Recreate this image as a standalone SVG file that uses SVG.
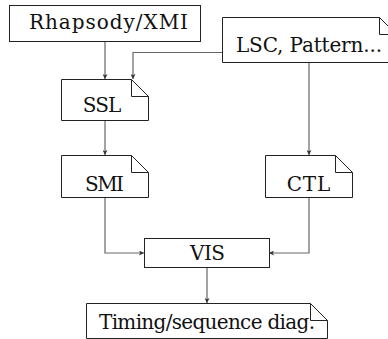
<svg xmlns="http://www.w3.org/2000/svg" width="388" height="339" viewBox="0 0 388 339">
  <style>
    .box { fill: #fff; stroke: #222; stroke-width: 1; }
    .fold { fill: none; stroke: #222; stroke-width: 1; }
    .lbl { font-size: 20px; fill: #111; text-anchor: middle; }
    .edge { fill: none; stroke: #666; stroke-width: 1.2; marker-end: url(#arrow); }
  </style>
  <defs>
    <marker id="arrow" viewBox="0 0 6 6" refX="6" refY="3" markerWidth="5" markerHeight="5" markerUnits="userSpaceOnUse" orient="auto">
      <path d="M0,0 L6,3 L0,6 L1.5,3 Z" fill="#333"/>
    </marker>
  </defs>
  <rect width="388" height="339" fill="#fff"/>

  <g id="connectors">
    <path class="edge" d="M105,41 V79"/>
    <path class="edge" d="M222,52.5 H133 V79"/>
    <path class="edge" d="M309,62 V155"/>
    <path class="edge" d="M105,120 V155"/>
    <path class="edge" d="M105,197 V253 H144"/>
    <path class="edge" d="M309,197 V253 H269"/>
    <path class="edge" d="M207,267 V303"/>
  </g>

  <g font-family="DejaVu Serif, serif">
  <g id="rhapsody">
    <rect class="box" x="9.5" y="5.5" width="191" height="36"/>
    <text class="lbl" x="108.5" y="28.5" textLength="159" lengthAdjust="spacing">Rhapsody/XMI</text>
  </g>

  <g id="lsc">
    <path class="box" d="M222.5,17.5 H379.5 L396.5,34.5 V62.5 H222.5 Z"/>
    <path class="fold" d="M379.5,17.5 V34.5 H396.5"/>
    <text class="lbl" x="309" y="52" textLength="146" lengthAdjust="spacing">LSC, Pattern...</text>
  </g>

  <g id="ssl">
    <path class="box" d="M61.5,79.5 H131.5 L148.5,96.5 V120.5 H61.5 Z"/>
    <path class="fold" d="M131.5,79.5 V96.5 H148.5"/>
    <text class="lbl" x="102" y="111.5" textLength="38.5" lengthAdjust="spacing">SSL</text>
  </g>

  <g id="smi">
    <path class="box" d="M61.5,155.5 H131.5 L148.5,172.5 V197.5 H61.5 Z"/>
    <path class="fold" d="M131.5,155.5 V172.5 H148.5"/>
    <text class="lbl" x="104.5" y="191" textLength="39" lengthAdjust="spacing">SMI</text>
  </g>

  <g id="ctl">
    <path class="box" d="M265.5,155.5 H335.5 L352.5,172.5 V197.5 H265.5 Z"/>
    <path class="fold" d="M335.5,155.5 V172.5 H352.5"/>
    <text class="lbl" x="308.5" y="191" textLength="43.5" lengthAdjust="spacing">CTL</text>
  </g>

  <g id="vis">
    <rect class="box" x="144.5" y="238.5" width="125" height="29"/>
    <text class="lbl" x="207.5" y="260" textLength="35" lengthAdjust="spacing">VIS</text>
  </g>

  <g id="timing">
    <path class="box" d="M86.5,303.5 H310.5 L327.5,320.5 V338.5 H86.5 Z"/>
    <path class="fold" d="M310.5,303.5 V320.5 H327.5"/>
    <text class="lbl" x="207" y="328.5" textLength="216" lengthAdjust="spacing">Timing/sequence diag.</text>
  </g>
  </g>
</svg>
